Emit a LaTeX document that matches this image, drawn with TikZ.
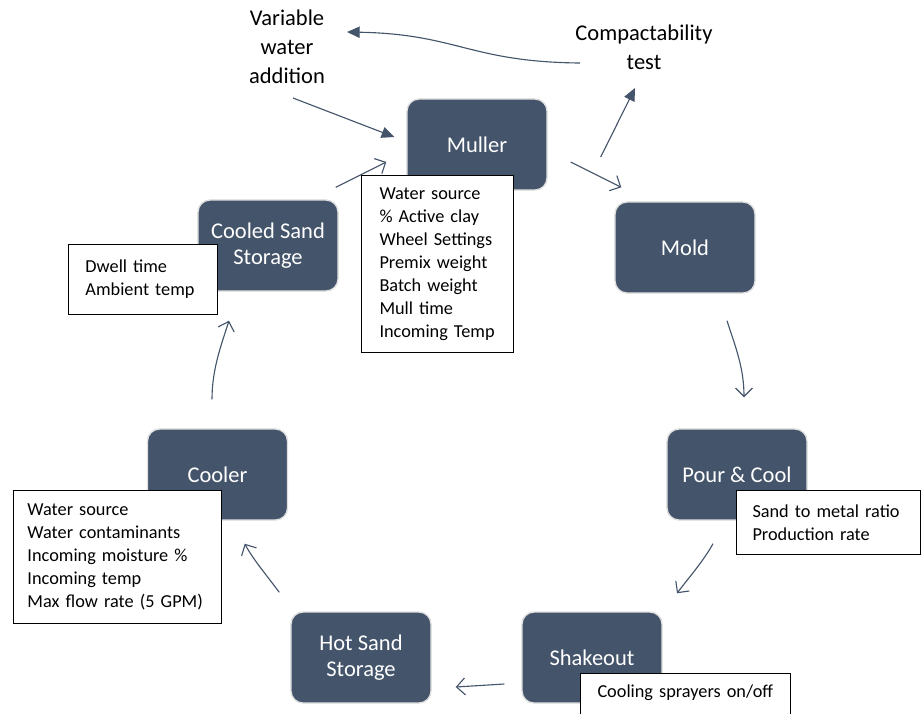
\documentclass[tikz,border=0pt]{standalone}
\usepackage{fontspec}
\setmainfont{Carlito}
\usetikzlibrary{arrows.meta}
\definecolor{slate}{HTML}{44546A}

\begin{document}
\begin{tikzpicture}[x=0.025cm,y=-0.025cm,
  stage/.style={rectangle,rounded corners=0.3cm,fill=slate,draw=black!12,line width=1pt,text=white,minimum width=3.5cm,minimum height=2.275cm,align=center,font=\fontsize{16}{18.5}\selectfont},
  note/.style={draw,fill=white,line width=0.7pt,anchor=north west,align=left,inner ysep=0pt,font=\fontsize{13}{16.4}\selectfont},
  tag/.style={align=center,font=\fontsize{16}{20.6}\selectfont},
  flow/.style={draw=slate,line width=0.8pt,-{Straight Barb[length=6pt,width=12pt]}},
  push/.style={draw=slate,line width=0.8pt,-{Triangle[length=9pt,width=8pt]}}]
\useasboundingbox (0,0) rectangle (921,713);

\node[stage] (muller) at (477,144.5) {Muller};
\node[stage] (mold) at (685,247.5) {Mold};
\node[stage] (pour) at (737,474.5) {Pour \& Cool};
\node[stage] (shake) at (592,657.5) {Shakeout};
\node[stage] (hot) at (361,657.5) {Hot Sand\\Storage};
\node[stage] (cooler) at (217.5,474.5) {Cooler};
\node[stage] (cooled) at (268,245.5) {Cooled Sand\\Storage};

\node[tag] (water) at (287,47) {Variable\\water\\addition};
\node[tag] (compact) at (644,47) {Compactability\\test};

\draw[flow] ([shift={(-3,-12)}]cooled.north east) -- ([shift={(-20,17.5)}]muller.west);
\draw[flow] ([shift={(23,17.5)}]muller.east) -- ([shift={(7,-14)}]mold.north west);
\draw[flow] ([shift={(42,27)}]mold.south) .. controls +(8,25) and +(0,-30) .. ([shift={(7,-31)}]pour.north);
\draw[flow] ([shift={(-24,23)}]pour.south) .. controls +(-10,18) and +(12,-16) .. ([shift={(85,-18)}]shake.north);
\draw[flow] ([shift={(-17,26.5)}]shake.west) -- ([shift={(24,29.5)}]hot.east);
\draw[flow] ([shift={(-11,-19)}]hot.north west) .. controls +(-15,-20) and +(8,15) .. ([shift={(-43.5,23)}]cooler.south east);
\draw[flow] ([shift={(-5.5,-29)}]cooler.north) .. controls +(0,-30) and +(-8,25) .. ([shift={(-39,29)}]cooled.south);

\draw[push] ([shift={(6,51)}]water.center) -- ([shift={(-12,-7.5)}]muller.west);
\draw[push] ([shift={(53,12.5)}]muller.east) -- ([shift={(-9,41)}]compact.center);
\draw[push] ([shift={(-64,16)}]compact.center) .. controls +(-110,-1) and +(110,2) .. ([shift={(60,-15)}]water.center);

\node[note,text width=2.9cm,inner xsep=0.45cm,minimum height=4.425cm] (mullernote) at (361,175) {Water source\\\% Active clay\\Wheel Settings\\Premix weight\\Batch weight\\Mull time\\Incoming Temp};
\node[note,text width=2.875cm,inner xsep=0.425cm,minimum height=1.75cm] (coolednote) at (68,244) {Dwell time\\Ambient temp};
\node[note,text width=3.8cm,inner xsep=0.4cm,minimum height=1.6cm] (pournote) at (736,490) {Sand to metal ratio\\Production rate};
\node[note,text width=4.5cm,inner xsep=0.35cm,minimum height=3.325cm] (coolernote) at (13,490) {Water source\\Water contaminants\\Incoming moisture \%\\Incoming temp\\Max flow rate (5 GPM)};
\node[note,text width=4.4cm,inner xsep=0.425cm,text height=0.6cm,text depth=0.75cm] (shakenote) at (580,673) {Cooling sprayers on/off};
\end{tikzpicture}
\end{document}
